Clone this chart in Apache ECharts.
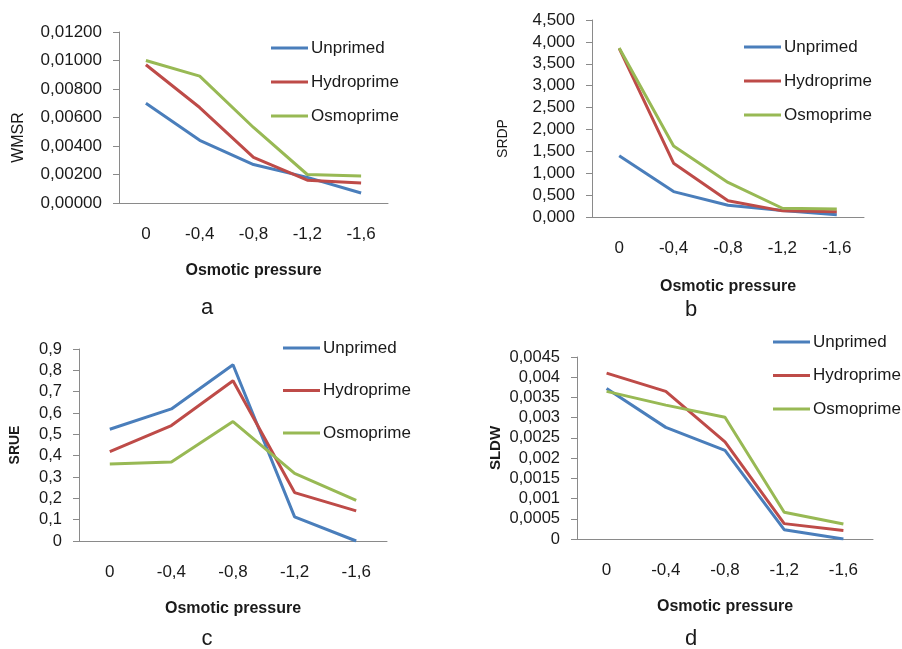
<!DOCTYPE html>
<html>
<head>
<meta charset="utf-8">
<script src="https://cdn.jsdelivr.net/npm/echarts@6/dist/echarts.min.js"></script>
<style>html,body{margin:0;padding:0;background:#fff;}#c{width:902px;height:649px;}</style>
</head>
<body>
<div id="c"></div>
<script>
var categories = ['0', '-0,4', '-0,8', '-1,2', '-1,6'];
var seriesNames = ['Unprimed', 'Hydroprime', 'Osmoprime'];

var wmsrUnprimed = [0.0070, 0.0044, 0.0027, 0.0018, 0.0007];
var wmsrHydroprime = [0.0097, 0.0067, 0.0032, 0.0016, 0.0014];
var wmsrOsmoprime = [0.0100, 0.0089, 0.0053, 0.0020, 0.0019];

var srdpUnprimed = [1.40, 0.58, 0.27, 0.15, 0.05];
var srdpHydroprime = [3.85, 1.23, 0.37, 0.14, 0.12];
var srdpOsmoprime = [3.86, 1.62, 0.79, 0.20, 0.18];

var srueUnprimed = [0.524, 0.619, 0.826, 0.113, 0.0];
var srueHydroprime = [0.419, 0.541, 0.751, 0.227, 0.141];
var srueOsmoprime = [0.361, 0.370, 0.560, 0.317, 0.191];

var sldwUnprimed = [0.00372, 0.00276, 0.00219, 0.00023, 0.0];
var sldwHydroprime = [0.00410, 0.00365, 0.00240, 0.00038, 0.00021];
var sldwOsmoprime = [0.00365, 0.00331, 0.00301, 0.00066, 0.00037];

var yNames = ['WMSR', 'SRDP', 'SRUE', 'SLDW'];
var captions = ['a', 'b', 'c', 'd'];
var xTitle = 'Osmotic pressure';

var colors = ['#4A7EBB', '#BE4B48', '#98B954'];
var FONT = 'Liberation Sans';
var AX = '#8a8a8a';
var TXT = '#1a1a1a';

var panelData = [
  [wmsrUnprimed, wmsrHydroprime, wmsrOsmoprime],
  [srdpUnprimed, srdpHydroprime, srdpOsmoprime],
  [srueUnprimed, srueHydroprime, srueOsmoprime],
  [sldwUnprimed, sldwHydroprime, sldwOsmoprime]
];

var grids = [
  {left: 119, right: 514, top: 32, bottom: 446},
  {left: 592, right: 38, top: 20, bottom: 432},
  {left: 79, right: 515, top: 349, bottom: 108},
  {left: 577, right: 29, top: 357, bottom: 110}
];
var yCfg = [
  {max: 0.012, interval: 0.002, fmt: function(v){return v.toFixed(5).replace('.', ',');}, fs: 17, nameBold: 'normal', nameSize: 16, nameGap: 92, namePad: [0, 40, 0, 0]},
  {max: 4.5, interval: 0.5, fmt: function(v){return v.toFixed(3).replace('.', ',');}, fs: 17, nameBold: 'normal', nameSize: 14, nameGap: 82, namePad: [0, 40, 0, 0]},
  {max: 0.9, interval: 0.1, fmt: function(v){return String(+v.toFixed(6)).replace('.', ',');}, fs: 16.5, nameBold: 'bold', nameSize: 14, nameGap: 57, namePad: 0},
  {max: 0.0045, interval: 0.0005, fmt: function(v){return String(+v.toFixed(6)).replace('.', ',');}, fs: 16.5, nameBold: 'bold', nameSize: 15, nameGap: 74, namePad: 0}
];
var xNameGap = [60, 62, 60, 60];
var legendPos = [
  {left: 271, top: 38, gap: 14},
  {left: 744, top: 37, gap: 14},
  {left: 283, top: 338, gap: 22.5},
  {left: 773, top: 332, gap: 13.5}
];
var captionPos = [[207, 297], [691, 299], [207, 628], [691, 628]];

var xAxes = [], yAxes = [], series = [], legends = [], titles = [];
for (var i = 0; i < 4; i++) {
  xAxes.push({
    type: 'category', gridIndex: i, data: categories, boundaryGap: true,
    axisLine: {lineStyle: {color: AX, width: 1}},
    axisTick: {show: false},
    axisLabel: {color: TXT, fontFamily: FONT, fontSize: 17, margin: 23},
    splitLine: {show: false},
    name: xTitle, nameLocation: 'middle', nameGap: xNameGap[i],
    nameTextStyle: {color: TXT, fontFamily: FONT, fontSize: 16, fontWeight: 'bold'}
  });
  var c = yCfg[i];
  yAxes.push({
    type: 'value', gridIndex: i, min: 0, max: c.max, interval: c.interval,
    axisLine: {show: true, lineStyle: {color: AX, width: 1}},
    axisTick: {show: true, length: 6, lineStyle: {color: AX}},
    axisLabel: {color: TXT, fontFamily: FONT, fontSize: c.fs, margin: 17, formatter: c.fmt},
    splitLine: {show: false},
    name: yNames[i], nameLocation: 'middle', nameGap: c.nameGap, nameRotate: 90,
    nameTextStyle: {color: TXT, fontFamily: FONT, fontSize: c.nameSize, fontWeight: c.nameBold, padding: c.namePad}
  });
  for (var s = 0; s < 3; s++) {
    series.push({
      type: 'line', name: seriesNames[s], xAxisIndex: i, yAxisIndex: i,
      data: panelData[i][s], showSymbol: false, symbol: 'none', smooth: false,
      lineStyle: {color: colors[s], width: 3}, itemStyle: {color: colors[s]},
      animation: false
    });
  }
  legends.push({
    orient: 'vertical', left: legendPos[i].left, top: legendPos[i].top, padding: 0,
    itemGap: legendPos[i].gap, itemWidth: 37, itemHeight: 3, icon: 'rect',
    data: seriesNames, selectedMode: false,
    textStyle: {color: TXT, fontFamily: FONT, fontSize: 17, lineHeight: 20, padding: [0, 0, 0, -2]}
  });
  titles.push({
    text: captions[i], left: captionPos[i][0], top: captionPos[i][1], textAlign: 'center', padding: 0,
    textStyle: {color: TXT, fontFamily: FONT, fontSize: 22, fontWeight: 'normal'}
  });
}

var chart = echarts.init(document.getElementById('c'), null, {renderer: 'canvas'});
chart.setOption({
  backgroundColor: '#ffffff',
  animation: false,
  color: colors,
  title: titles,
  legend: legends,
  grid: grids,
  xAxis: xAxes,
  yAxis: yAxes,
  series: series
});
</script>
</body>
</html>
